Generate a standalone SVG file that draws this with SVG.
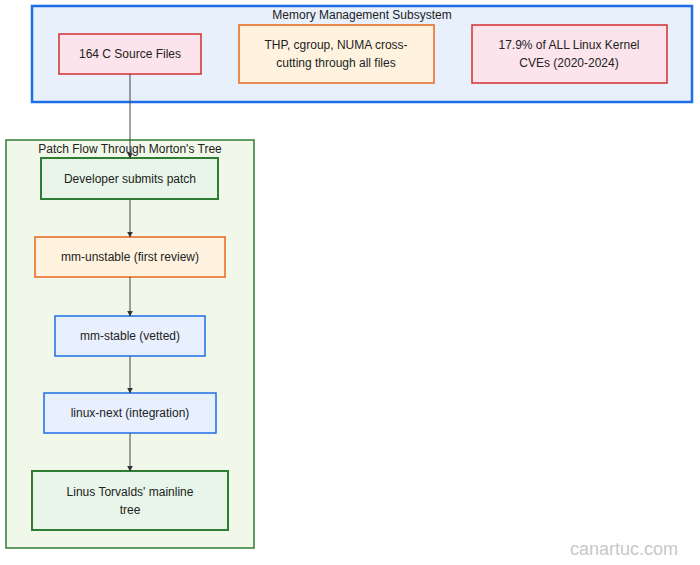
<svg xmlns="http://www.w3.org/2000/svg" width="700" height="565" viewBox="0 0 700 565">
<style>
text{font-family:"Liberation Sans",Arial,sans-serif;font-size:12px;fill:#222;text-anchor:middle}
.red{fill:#fce4ec;stroke:#d32f2f;stroke-width:1.5}
.org{fill:#fff3e0;stroke:#e8671c;stroke-width:1.5}
.grn{fill:#e8f5e9;stroke:#2e7d32;stroke-width:2}
.blu{fill:#e8f0fe;stroke:#1e6ee8;stroke-width:1.5}
.e{stroke:#444;stroke-width:1;fill:none;marker-end:url(#a)}
</style>
<defs><marker id="a" viewBox="0 0 10 10" refX="9" refY="5" markerWidth="6" markerHeight="6" orient="auto"><path d="M0,0L10,5L0,10z" fill="#333"/></marker></defs>
<g id="mm"><rect x="32" y="6" width="660" height="96" fill="#e8f0fc" stroke="#1e6ee8" stroke-width="2.5"/><text x="362" y="19">Memory Management Subsystem</text></g>
<g id="pf"><rect x="6" y="140" width="248" height="408" fill="#f1f8e9" stroke="#2e7d32" stroke-width="1.5"/><text x="130" y="153">Patch Flow Through Morton's Tree</text></g>
<g id="n1"><rect class="red" x="59" y="34" width="142" height="40"/><text x="130" y="58">164 C Source Files</text></g>
<g id="n2"><rect class="org" x="239" y="25" width="195" height="58"/><text x="336" y="49">THP, cgroup, NUMA cross-</text><text x="336" y="67">cutting through all files</text></g>
<g id="n3"><rect class="red" x="472" y="25" width="195" height="58"/><text x="569" y="49">17.9% of ALL Linux Kernel</text><text x="569" y="67">CVEs (2020-2024)</text></g>
<g id="n4"><rect class="grn" x="41" y="158" width="177" height="41" stroke-width="1.5"/><text x="130" y="183">Developer submits patch</text></g>
<g id="n5"><rect class="org" x="35" y="237" width="190" height="40"/><text x="130" y="261">mm-unstable (first review)</text></g>
<g id="n6"><rect class="blu" x="55" y="316" width="150" height="40"/><text x="130" y="340">mm-stable (vetted)</text></g>
<g id="n7"><rect class="blu" x="44" y="393" width="172" height="40"/><text x="130" y="417">linux-next (integration)</text></g>
<g id="n8"><rect class="grn" x="32" y="471" width="196" height="59"/><text x="130" y="496">Linus Torvalds' mainline</text><text x="130" y="514">tree</text></g>
<g id="edges">
<path class="e" d="M130,74V158"/>
<path class="e" d="M130,199V237"/>
<path class="e" d="M130,277V316"/>
<path class="e" d="M130,356V393"/>
<path class="e" d="M130,433V471"/>
</g>
<text x="624" y="555" style="font-size:18px;fill:#c8c8c8">canartuc.com</text>
</svg>
